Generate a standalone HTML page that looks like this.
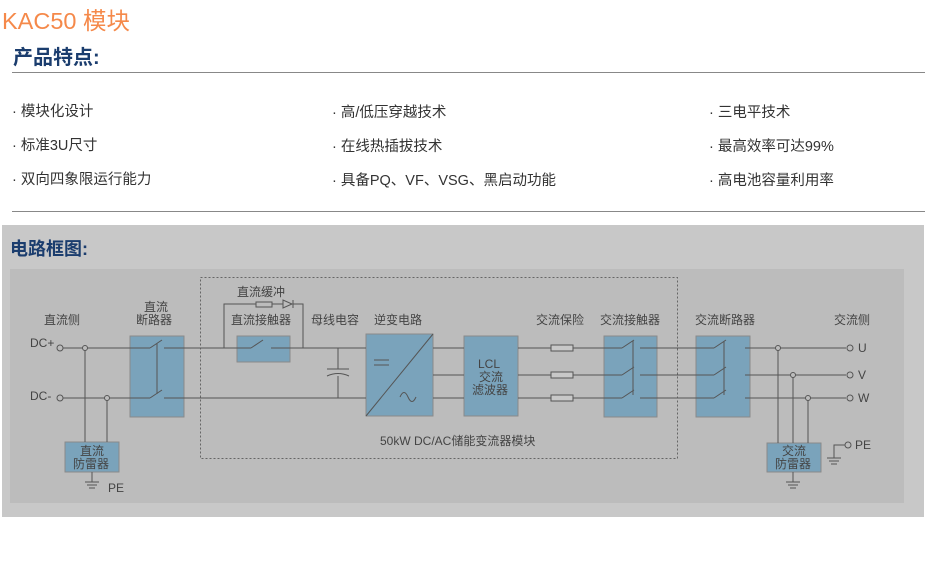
<!DOCTYPE html>
<html><head><meta charset="utf-8"><style>
body{margin:0;width:925px;height:561px;background:#fff;position:relative;overflow:hidden;font-family:"Liberation Sans","Noto Sans CJK SC",sans-serif}
.a{position:absolute;white-space:nowrap}
.it{font-size:14.5px;color:#333}
</style></head><body>
<div class="a" style="left:2px;top:2px;font-size:23.5px;color:#f5894a">KAC50 模块</div>
<div class="a" style="left:13px;top:41px;font-size:20px;font-weight:bold;color:#1b3d6e">产品特点:</div>
<div class="a" style="left:12px;top:72px;width:913px;height:1px;background:#888"></div>
<div class="a it" style="left:12px;top:100px">· 模块化设计</div>
<div class="a it" style="left:12px;top:134px">· 标准3U尺寸</div>
<div class="a it" style="left:12px;top:168px">· 双向四象限运行能力</div>
<div class="a it" style="left:332px;top:101px">· 高/低压穿越技术</div>
<div class="a it" style="left:332px;top:135px">· 在线热插拔技术</div>
<div class="a it" style="left:332px;top:169px">· 具备PQ、VF、VSG、黑启动功能</div>
<div class="a it" style="left:709px;top:101px">· 三电平技术</div>
<div class="a it" style="left:709px;top:135px">· 最高效率可达99%</div>
<div class="a it" style="left:709px;top:169px">· 高电池容量利用率</div>
<div class="a" style="left:12px;top:211px;width:913px;height:1px;background:#888"></div>
<div class="a" style="left:2px;top:225px;width:922px;height:292px;background:#c8c8c8"></div>
<div class="a" style="left:10px;top:235px;font-size:18px;font-weight:bold;color:#1b3d6e">电路框图:</div>
<svg class="a" style="left:0;top:0" width="925" height="561" font-family="Liberation Sans, Noto Sans CJK SC, sans-serif" font-size="12" fill="#444">
<rect x="10" y="269" width="894" height="234" fill="#bcbcbc"/>
<rect x="200.5" y="277.5" width="477" height="181" fill="none" stroke="#666" stroke-dasharray="2,2"/>
<g fill="#7aa3bb" stroke="#8a8a8a">
<rect x="130" y="336" width="54" height="81"/>
<rect x="237" y="336" width="53" height="26"/>
<rect x="366" y="334" width="67" height="82"/>
<rect x="464" y="336" width="54" height="80"/>
<rect x="604" y="336" width="53" height="81"/>
<rect x="696" y="336" width="54" height="81"/>
<rect x="65" y="442" width="54" height="30"/>
<rect x="767" y="443" width="54" height="29"/>
</g>
<g stroke="#555" fill="none" stroke-width="1">
<path d="M63 348H150M164 348H251M271 348H366M63 398H150M164 398H366"/>
<path d="M150 348l12-8M150 398l12-8M157 343V394"/>
<path d="M224 348V304H256M272 304H283M293 304H303V348"/>
<rect x="256" y="302" width="16" height="5"/>
<path d="M283 300V308L292 304Z M293 300V308"/>
<path d="M251 348l12-8"/>
<path d="M338 348V369M338 376V398M327 369H349M327 376q11-5 22 0"/>
<path d="M366 416L433 334M374 360H389M374 365H389" />
<path d="M400 397q4-9 8 0t8 0"/>
<path d="M85 348V442M107 398V442M92 472V482M85 482H99M87 485H97M89 488H95"/>
<path d="M433 348H464M433 375H464M433 398H464"/>
<path d="M518 348H622M518 375H622M518 398H622M640 348H714M640 375H714M640 398H714M745 348H846M745 375H846M745 398H846"/>
<rect x="551" y="345" width="22" height="6" fill="#c8c8c8"/><rect x="551" y="372" width="22" height="6" fill="#c8c8c8"/><rect x="551" y="395" width="22" height="6" fill="#c8c8c8"/>
<path d="M622 348l12-8M622 375l12-8M622 398l12-8M633 341V395"/>
<path d="M714 348l12-8M714 375l12-8M714 398l12-8M724 341V395"/>
<path d="M778 348V443M793 375V443M808 398V443M793 472V482M786 482H800M788 485H798M790 488H796"/>
<path d="M845 445H834V458M827 458H841M829 461H839M831 464H837"/>
</g>
<g fill="#bcbcbc" stroke="#555">
<circle cx="60" cy="348" r="3"/><circle cx="60" cy="398" r="3"/><circle cx="85" cy="348" r="2.5"/><circle cx="107" cy="398" r="2.5"/>
<circle cx="778" cy="348" r="2.5"/><circle cx="793" cy="375" r="2.5"/><circle cx="808" cy="398" r="2.5"/>
<circle cx="850" cy="348" r="3"/><circle cx="850" cy="375" r="3"/><circle cx="850" cy="398" r="3"/><circle cx="848" cy="445" r="3"/>
</g>
<text x="44" y="324">直流侧</text>
<text x="30" y="347">DC+</text><text x="30" y="400">DC-</text>
<text x="144" y="311">直流</text><text x="136" y="324">断路器</text>
<text x="237" y="296">直流缓冲</text><text x="231" y="324">直流接触器</text>
<text x="311" y="324">母线电容</text><text x="374" y="324">逆变电路</text>
<text x="478" y="368">LCL</text><text x="479" y="381">交流</text><text x="472" y="394">滤波器</text>
<text x="536" y="324">交流保险</text><text x="600" y="324">交流接触器</text>
<text x="695" y="324">交流断路器</text><text x="834" y="324">交流侧</text>
<text x="858" y="352">U</text><text x="858" y="379">V</text><text x="858" y="402">W</text><text x="855" y="449">PE</text>
<text x="380" y="445">50kW DC/AC储能变流器模块</text>
<text x="80" y="455">直流</text><text x="73" y="468">防雷器</text>
<text x="782" y="455">交流</text><text x="775" y="468">防雷器</text>
<text x="108" y="492">PE</text>
</svg>
</body></html>
